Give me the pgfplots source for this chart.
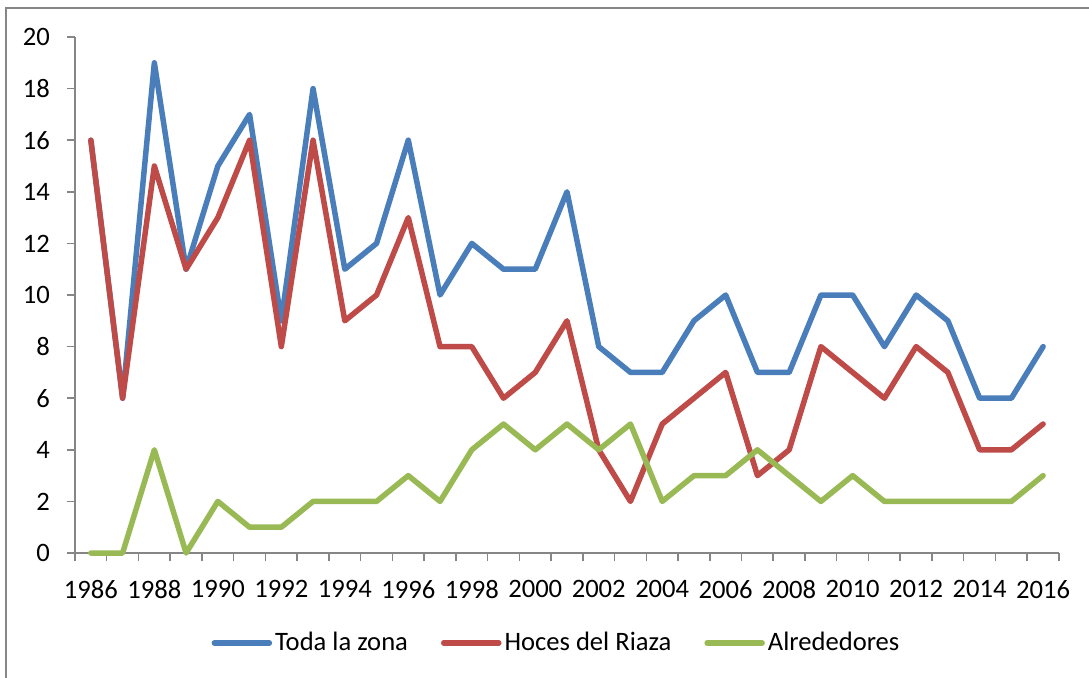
\documentclass[border=0pt]{standalone}
\usepackage{fontspec}
\setmainfont{Carlito}
\usepackage{pgfplots}
\pgfplotsset{compat=1.18}
\definecolor{cblue}{HTML}{4A7EBB}
\definecolor{cred}{HTML}{BE4B48}
\definecolor{cgreen}{HTML}{98B954}
\definecolor{axgray}{HTML}{868686}
\begin{document}
\begin{tikzpicture}
\useasboundingbox (0pt,0pt) rectangle (544.5pt,-338.5pt);
\clip (0pt,0pt) rectangle (544.5pt,-338.5pt);
\draw[axgray, line width=0.6pt] (3pt,-4pt) rectangle (600pt,-400pt);
\begin{axis}[
  at={(37.5pt,-276.5pt)}, anchor=south west,
  scale only axis, width=492pt, height=258pt,
  xmin=1985.5, xmax=2016.5, ymin=0, ymax=20,
  axis x line=bottom, axis y line=left,
  axis line style={-, draw=axgray, line width=0.75pt},
  tick style={draw=axgray, line width=0.75pt},
  tick align=outside,
  xtick={1986,1988,...,2016},
  xticklabels={1986,1988,1990,1992,1994,1996,1998,2000,2002,2004,2006,2008,2010,2012,2014,2016},
  major x tick style={draw=none},
  minor xtick={1985.5,1986.5,...,2016.5},
  minor tick length=4pt,
  ytick={0,2,...,20},
  major tick length=4pt,
  /pgf/number format/assume math mode=true,
  tick label style={font=\fontsize{13.3}{15}\selectfont},
  yticklabel style={xshift=-5pt},
  xticklabel style={yshift=-6pt},
  legend style={at={(0.5,0)}, anchor=center, yshift=-45pt, xshift=-5pt, draw=none, fill=none,
    font=\fontsize{13.3}{15}\selectfont, /tikz/every even column/.append style={column sep=15pt},
    nodes={inner sep=1.5pt}},
  legend columns=-1,
  legend image code/.code={\draw[#1] (0pt,0pt) -- (27.5pt,0pt);},
  every axis plot/.append style={line width=2.75pt, line cap=round, line join=round, no marks},
  clip=false,
]
\addplot[cblue] coordinates {
(1986,16)(1987,6)(1988,19)(1989,11)(1990,15)(1991,17)(1992,9)(1993,18)(1994,11)(1995,12)
(1996,16)(1997,10)(1998,12)(1999,11)(2000,11)(2001,14)(2002,8)(2003,7)(2004,7)(2005,9)
(2006,10)(2007,7)(2008,7)(2009,10)(2010,10)(2011,8)(2012,10)(2013,9)(2014,6)(2015,6)(2016,8)};
\addlegendentry{Toda la zona}
\addplot[cred] coordinates {
(1986,16)(1987,6)(1988,15)(1989,11)(1990,13)(1991,16)(1992,8)(1993,16)(1994,9)(1995,10)
(1996,13)(1997,8)(1998,8)(1999,6)(2000,7)(2001,9)(2002,4)(2003,2)(2004,5)(2005,6)
(2006,7)(2007,3)(2008,4)(2009,8)(2010,7)(2011,6)(2012,8)(2013,7)(2014,4)(2015,4)(2016,5)};
\addlegendentry{Hoces del Riaza}
\addplot[cgreen] coordinates {
(1986,0)(1987,0)(1988,4)(1989,0)(1990,2)(1991,1)(1992,1)(1993,2)(1994,2)(1995,2)
(1996,3)(1997,2)(1998,4)(1999,5)(2000,4)(2001,5)(2002,4)(2003,5)(2004,2)(2005,3)
(2006,3)(2007,4)(2008,3)(2009,2)(2010,3)(2011,2)(2012,2)(2013,2)(2014,2)(2015,2)(2016,3)};
\addlegendentry{Alrededores}
\end{axis}
\end{tikzpicture}
\end{document}
